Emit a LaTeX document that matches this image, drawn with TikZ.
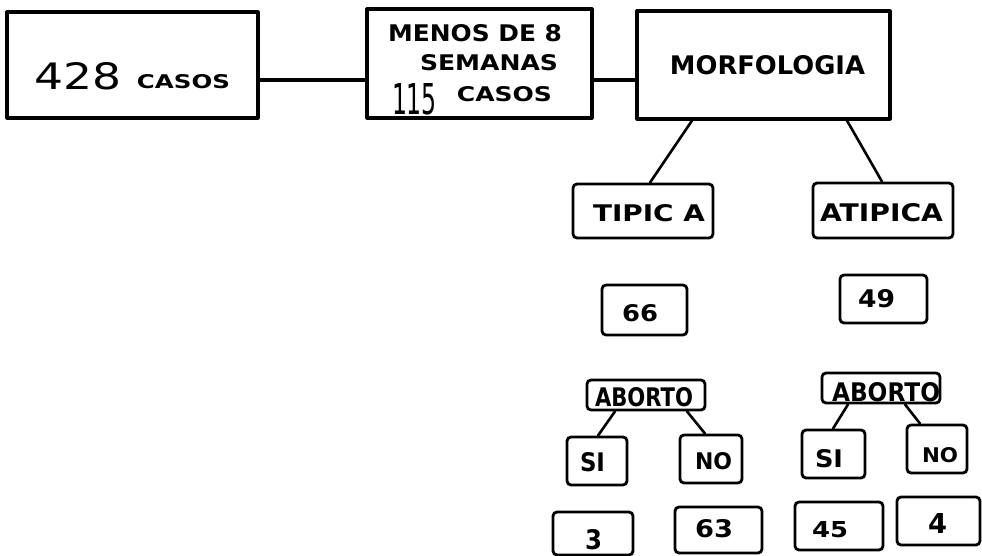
\documentclass[tikz,border=0pt]{standalone}
\usepackage{fontspec}
\setmainfont{DejaVu Sans}
\usepackage{graphicx}
\newcommand{\fitt}[3]{\resizebox{#1pt}{#2pt}{#3}}
\newcommand{\fitb}[3]{\resizebox{#1pt}{#2pt}{\bfseries #3}}
\tikzset{
  bigbox/.style={draw, line width=3.2pt, inner sep=0pt, line join=round},
  smallbox/.style={draw, line width=2.8pt, inner sep=0pt, rounded corners=4pt},
  txt/.style={inner sep=0pt, anchor=center},
  conn/.style={line width=3.2pt},
  thinconn/.style={line width=2.6pt, line cap=round},
}
\begin{document}
\begin{tikzpicture}[x=1pt,y=-1pt]
\useasboundingbox (0,0) rectangle (982,556);
% top row boxes
\node[bigbox, minimum width=251pt, minimum height=106pt] (b428) at (132.5,65) {};
\node[bigbox, minimum width=225pt, minimum height=109pt] (menos) at (479.5,63.5) {};
\node[bigbox, minimum width=253pt, minimum height=108pt] (morf) at (763.5,65) {};
% second level
\node[smallbox, minimum width=140pt, minimum height=54pt] (tipica) at (643,211) {};
\node[smallbox, minimum width=140pt, minimum height=55pt] (atipica) at (883,210.5) {};
\node[smallbox, minimum width=85pt, minimum height=50pt] (n66) at (644.5,310) {};
\node[smallbox, minimum width=87pt, minimum height=48pt] (n49) at (883.5,299) {};
% aborto
\node[smallbox, minimum width=118pt, minimum height=30pt] (abL) at (646,395) {};
\node[smallbox, minimum width=118pt, minimum height=30pt] (abR) at (881,388) {};
\node[smallbox, minimum width=60pt, minimum height=48pt] (siL) at (597,461) {};
\node[smallbox, minimum width=62pt, minimum height=48pt] (noL) at (711,459) {};
\node[smallbox, minimum width=63pt, minimum height=48pt] (siR) at (833.5,454) {};
\node[smallbox, minimum width=60pt, minimum height=48pt] (noR) at (937,449) {};
% bottom numbers
\node[smallbox, minimum width=80pt, minimum height=43pt] (n3) at (593,533.5) {};
\node[smallbox, minimum width=87pt, minimum height=46pt] (n63) at (718.5,530) {};
\node[smallbox, minimum width=88pt, minimum height=48pt] (n45) at (839,526) {};
\node[smallbox, minimum width=83pt, minimum height=48pt] (n4) at (938.5,521) {};
% texts
\node[txt] (t428) at (78.5,76.5) {\fitt{87}{27}{428}};
\node[txt] (tcasosA) at (183.5,82) {\fitb{93}{14}{CASOS}};
\node[txt] (tmenos) at (475,33.5) {\fitb{174}{17}{MENOS DE 8}};
\node[txt] (tsem) at (489,63) {\fitb{138}{16}{SEMANAS}};
\node[txt] (t115) at (414.5,99.5) {\fitt{45}{31}{115}};
\node[txt] (tcasosB) at (504.5,94.5) {\fitb{95}{15}{CASOS}};
\node[txt] (tmorf) at (767.5,65.5) {\fitb{195}{19}{MORFOLOGIA}};
\node[txt] (ttip) at (649,213.5) {\fitb{112}{17}{TIPIC A}};
\node[txt] (tatip) at (881.5,213) {\fitb{123}{18}{ATIPICA}};
\node[txt] (t66) at (640,313) {\fitb{36}{17}{66}};
\node[txt] (t49) at (876.5,299) {\fitb{37}{18}{49}};
\node[txt] (tabL) at (644,397.5) {\fitb{98}{19}{ABORTO}};
\node[txt] (tabR) at (886,392.5) {\fitb{108}{19}{ABORTO}};
\node[txt] (tsiL) at (592.5,462.5) {\fitb{25}{19}{SI}};
\node[txt] (tnoL) at (713.5,461.5) {\fitb{37}{17}{NO}};
\node[txt] (tsiR) at (829,459) {\fitb{28}{18}{SI}};
\node[txt] (tnoR) at (940,455.5) {\fitb{36}{15}{NO}};
\node[txt] (t3) at (593.5,540) {\fitb{17}{20}{3}};
\node[txt] (t63) at (714,529) {\fitb{38}{18}{63}};
\node[txt] (t45) at (830,530) {\fitb{36}{16}{45}};
\node[txt] (t4) at (937.5,523) {\fitb{19}{20}{4}};
% connectors
\coordinate (ylev) at (0,80);
\draw[conn] (b428.east |- ylev) -- (menos.west |- ylev);
\draw[conn] (menos.east |- ylev) -- (morf.west |- ylev);
\draw[thinconn] ([xshift=-71.5pt]morf.south) -- ([xshift=7pt]tipica.north);
\draw[thinconn] ([xshift=83.5pt]morf.south) -- ([xshift=-1pt]atipica.north);
\draw[thinconn] ([xshift=-31pt]abL.south) -- ([xshift=1pt]siL.north);
\draw[thinconn] ([xshift=41pt]abL.south) -- ([xshift=-6pt]noL.north);
\draw[thinconn] ([xshift=-33pt]abR.south) -- ([xshift=-0.5pt]siR.north);
\draw[thinconn] ([xshift=24pt]abR.south) -- ([xshift=-17pt]noR.north);
\end{tikzpicture}
\end{document}
